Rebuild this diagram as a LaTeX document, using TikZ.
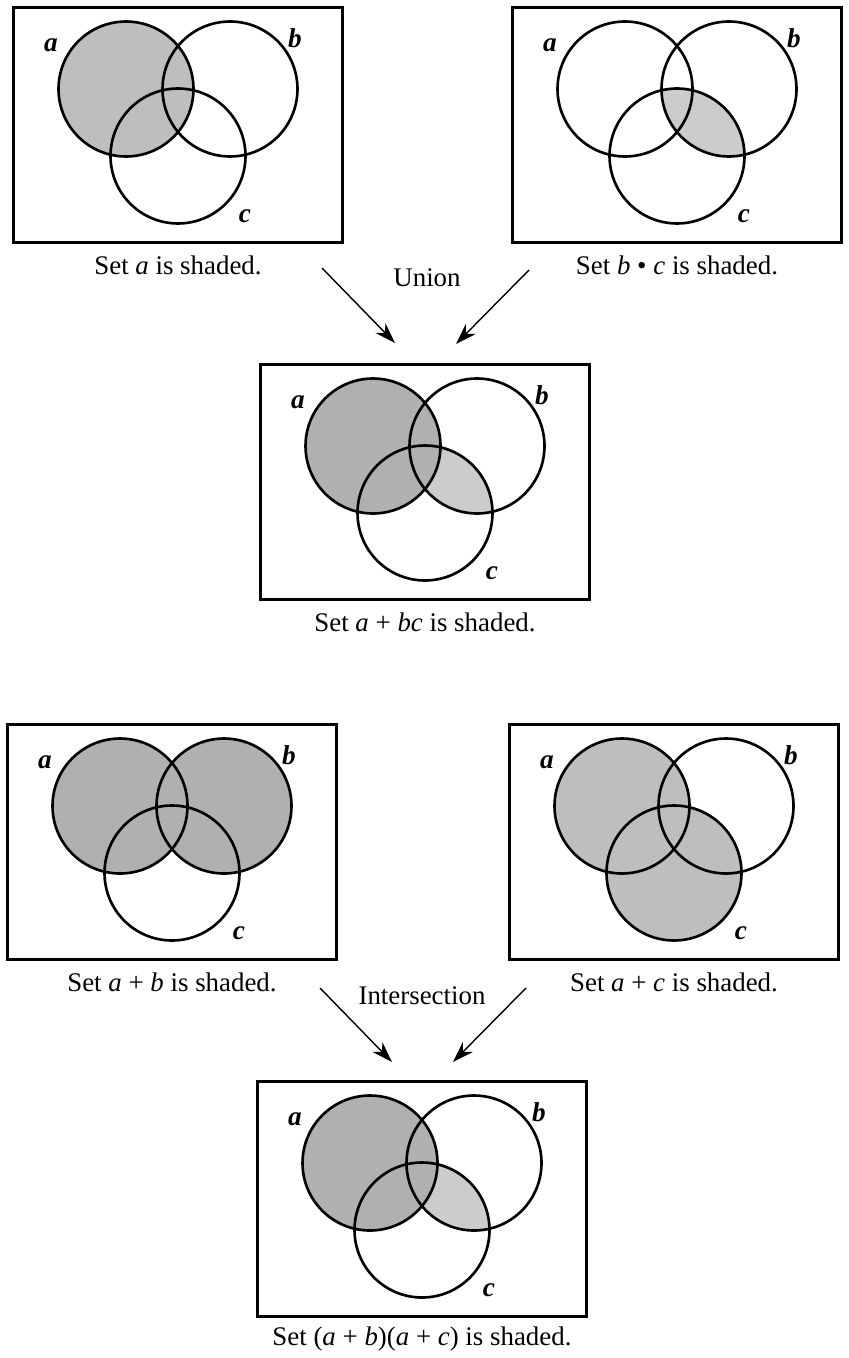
\documentclass[tikz,border=0pt]{standalone}
\usepackage{fontspec}
\setmainfont{Liberation Serif}
\usetikzlibrary{arrows.meta, positioning}
\definecolor{cShade}{RGB}{190,190,190}
\definecolor{cShadeDk}{RGB}{176,176,176}
\definecolor{cShadeLt}{RGB}{204,204,204}
\tikzset{
	panel/.style ={rectangle, draw=black, line width=1.7pt, minimum width=6.6cm, minimum height=4.72cm, inner sep=0pt},
	ring/.style  ={draw=black, line width=1.5pt},
	lbl/.style   ={font=\fontsize{15.5}{17}\selectfont\bfseries\itshape, inner sep=1pt},
	captext/.style={font=\fontsize{15.3}{18}\selectfont, inner sep=1pt},
	oparrow/.style={-{Stealth[length=4.2mm, width=2.8mm]}, line width=0.8pt},
}
% the three sets, in pixel units of one panel
\newcommand{\ca}{(113,82) circle[radius=1.35cm]}
\newcommand{\cb}{(217,82) circle[radius=1.35cm]}
\newcommand{\cc}{(165,149) circle[radius=1.35cm]}
% #1 name, #2 top-left corner, #3 shading, #4 caption
\newcommand{\vennset}[4]{%
	\begin{scope}[shift={#2}]
		#3
		\draw[ring] \ca \cb \cc;
		\node[panel] (#1) at (165,118) {};
		\node[lbl] (#1-a) at (38,38) {a};
		\node[lbl] (#1-b) at (282,31) {b};
		\node[lbl] (#1-c) at (232,209) {c};
		\node[captext] (#1-cap) at (165,258) {#4};
	\end{scope}}
\newcommand{\shadebc}{\begin{scope}\clip \cb; \fill[cShadeLt] \cc; \end{scope}}

\begin{document}
\begin{tikzpicture}[x=0.02cm, y=-0.02cm]
	\useasboundingbox (0,0) rectangle (848,1358);
	% union
	\vennset{setA}{(13,7)}{\fill[cShade] \ca;}{Set \textit{a} is shaded.}
	\vennset{setBC}{(512,7)}{\shadebc}{Set \textit{b} \textbullet\ \textit{c} is shaded.}
	\vennset{setABC}{(260,364)}{\shadebc \fill[cShadeDk] \ca;}{Set \textit{a} + \textit{bc} is shaded.}
	\node[captext] (union) at (427,278) {Union};
	\coordinate (u1) at (322,268); \coordinate (u2) at (529,270);
	\coordinate (u1e) at (395,343); \coordinate (u2e) at (456,344);
	\draw[oparrow] (u1) -- (u1e); \draw[oparrow] (u2) -- (u2e);
	% intersection
	\vennset{setAB}{(7,724)}{\fill[cShadeDk] \ca \cb;}{Set \textit{a} + \textit{b} is shaded.}
	\vennset{setAC}{(509,724)}{\fill[cShade] \ca \cc;}{Set \textit{a} + \textit{c} is shaded.}
	\vennset{setABAC}{(257,1081)}{\shadebc \fill[cShadeDk] \ca;}{Set (\textit{a} + \textit{b})(\textit{a} + \textit{c}) is shaded.}
	\node[captext] (inter) at (422,996) {Intersection};
	\coordinate (i1) at (320,988); \coordinate (i2) at (526,988);
	\coordinate (i1e) at (392,1062); \coordinate (i2e) at (453,1062);
	\draw[oparrow] (i1) -- (i1e); \draw[oparrow] (i2) -- (i2e);
\end{tikzpicture}
\end{document}
